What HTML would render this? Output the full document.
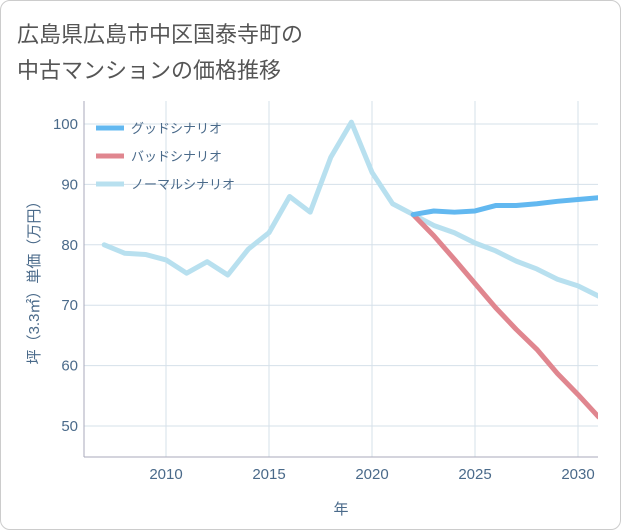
<!DOCTYPE html>
<html><head><meta charset="utf-8"><style>
body{margin:0;background:#fff;font-family:"Liberation Sans","Noto Sans CJK JP",sans-serif;}
#card{position:absolute;left:0;top:0;width:619px;height:528px;border:1px solid #ccc;border-radius:10px;background:#fff;overflow:hidden}
.t{position:absolute;left:16px;font-size:22px;color:#555;}
</style></head><body>
<div id="card">
<div class="t" style="top:16px">広島県広島市中区国泰寺町の</div>
<div class="t" style="top:52px">中古マンションの価格推移</div>
<svg id="s" width="621" height="530" style="position:absolute;left:0;top:0"></svg>
</div>
<script>
const years=[2007,2008,2009,2010,2011,2012,2013,2014,2015,2016,2017,2018,2019,2020,2021,2022,2023,2024,2025,2026,2027,2028,2029,2030,2031];
const normal=[80,78.6,78.4,77.5,75.3,77.2,75,79.3,82,88,85.4,94.5,100.3,92,86.8,85,83.2,82,80.3,79,77.3,76,74.3,73.2,71.5];
const goodYears=[2022,2023,2024,2025,2026,2027,2028,2029,2030,2031];
const good=[85,85.6,85.4,85.6,86.5,86.5,86.8,87.2,87.5,87.8];
const badYears=[2022,2023,2024,2025,2026,2027,2028,2029,2030,2031];
const bad=[85,81.5,77.6,73.6,69.6,66,62.7,58.7,55.2,51.5];
const xTicks=[2010,2015,2020,2025,2030];
const yTicks=[50,60,70,80,90,100];
const X=v=>165+(v-2010)*20.6, Y=v=>123+(100-v)*6.04;
const L=83,R=597,T=100,B=456;
const s=document.getElementById('s');const ns='http://www.w3.org/2000/svg';
function el(t,a,txt,parent){const e=document.createElementNS(ns,t);for(const k in a)e.setAttribute(k,a[k]);if(txt!=null)e.textContent=txt;(parent||s).appendChild(e);return e;}
const defs=el('defs',{});
const cp=el('clipPath',{id:'c'},null,defs);
el('rect',{x:L,y:T-10,width:R-L,height:B-T+10},null,cp);
for(const v of xTicks){const g=el('line',{x1:X(v),x2:X(v),y1:T,y2:B,stroke:'#d5e0ea'});
const t=el('text',{x:X(v),y:478,'text-anchor':'middle','font-size':15,fill:'#4a6a8a'},v);}
for(const v of yTicks){const g=el('line',{x1:L,x2:R,y1:Y(v),y2:Y(v),stroke:'#d5e0ea'});
const t=el('text',{x:77,y:Y(v)+5,'text-anchor':'end','font-size':15,fill:'#4a6a8a'},v);}
const ax=el('line',{x1:L,x2:L,y1:T,y2:B,stroke:'#aab'});
const ax2=el('line',{x1:L,x2:R,y1:B,y2:B,stroke:'#aab'});
const xt=el('text',{x:340,y:513,'text-anchor':'middle','font-size':15,fill:'#4a6a8a'},'年');
const yt=el('text',{x:0,y:0,'text-anchor':'middle','font-size':15,fill:'#4a6a8a',transform:'translate(38,278) rotate(-90)'},'坪（3.3㎡）単価（万円）');
function line(xs,ys,c,n){const p=el('polyline',{points:xs.map((x,i)=>X(x)+','+Y(ys[i])).join(' '),fill:'none',stroke:c,'stroke-width':5,'stroke-linejoin':'round','stroke-linecap':'round','clip-path':'url(#c)'});}
line(years,normal,'#b8e0ef','normal-scenario-line');
line(badYears,bad,'#e0868f','bad-scenario-line');
line(goodYears,good,'#62b8f0','good-scenario-line');
const leg=[['グッドシナリオ','#62b8f0'],['バッドシナリオ','#e0868f'],['ノーマルシナリオ','#b8e0ef']];
leg.forEach((l,i)=>{const y=127+i*28;const a=el('line',{x1:95,x2:123,y1:y,y2:y,stroke:l[1],'stroke-width':5});
const t=el('text',{x:130,y:y+5,'font-size':13,fill:'#4a6a8a'},l[0]);});
</script></body></html>
